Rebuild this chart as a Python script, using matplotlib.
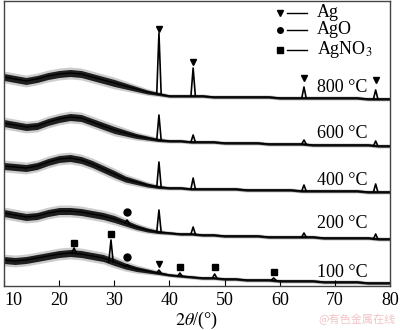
import numpy as np
import matplotlib
matplotlib.use("Agg")
import matplotlib.pyplot as plt

plt.rcParams['font.family'] = ['Liberation Serif', 'DejaVu Serif']
plt.rcParams['mathtext.fontset'] = 'stix'

# 2theta grid (deg) and smoothed baseline of each pattern (offset intensity, a.u.)
two_theta = np.arange(10, 81, 2)
i800 = [209, 207, 205, 207, 210, 212, 213, 212, 209, 206, 203, 200, 197, 194, 192, 190, 190, 190,
        190, 189, 189, 189, 189, 189, 189, 188, 188, 188, 188, 188, 188, 188, 188, 187, 187, 187]
i600 = [163, 161, 159, 160, 164, 167, 169, 168, 164, 160, 156, 153, 150, 148, 146, 145, 145, 144,
        144, 144, 143, 143, 143, 143, 142, 142, 142, 142, 141, 141, 141, 141, 141, 141, 140, 140]
i400 = [120, 119, 118, 120, 124, 127, 128, 126, 122, 117, 112, 107, 104, 101, 99, 98, 98, 97,
        97, 97, 97, 97, 96, 96, 96, 96, 96, 95, 95, 95, 95, 95, 95, 94, 94, 94]
i200 = [73, 71, 69, 70, 73, 75, 75, 74, 72, 70, 67, 63, 59, 56, 54, 53, 52, 52,
        51, 51, 50, 50, 50, 50, 49, 49, 49, 49, 49, 48, 48, 48, 48, 48, 47, 47]
i100 = [26, 25, 26, 28, 30, 32, 33, 32, 30, 28, 24, 20, 17, 15, 13, 11, 10, 9,
        8, 8, 7, 7, 6, 6, 6, 5, 5, 5, 5, 4, 4, 4, 4, 3, 3, 3]
# half-width of the noise band along the scan
noise = [3.5] * 11 + [3, 2.5, 2, 1.5] + [1.2] * 21

# reflections: (2theta, peak top)
pk800 = [(38.1, 253), (44.3, 218), (64.4, 199), (77.4, 196)]
pk600 = [(38.1, 171), (44.3, 151), (64.4, 146), (77.4, 145)]
pk400 = [(38.1, 124), (44.3, 108), (64.4, 101), (77.4, 102)]
pk200 = [(32.3, 66), (38.1, 76), (44.3, 59), (64.4, 53), (77.4, 52)]
pk100 = [(22.7, 38), (29.4, 46), (32.3, 21), (38.1, 16), (41.9, 13), (48.2, 12), (58.9, 8)]

# phase markers
ag_x = [38.1, 44.3, 64.4, 77.4, 38.1]
ag_y = [257, 224, 208, 206, 22]
ago_x = [32.3, 32.3]
ago_y = [74, 29]
agno3_x = [22.7, 29.4, 41.9, 48.2, 58.9]
agno3_y = [43, 52, 19, 19, 14]

temps = ['800 °C', '600 °C', '400 °C', '200 °C', '100 °C']
label_y = [198, 152, 106, 63, 14]

fig = plt.figure(figsize=(4, 3.3), dpi=100)
ax = fig.add_axes([0.01, 0.1333, 0.965, 0.8637])

for curve, peaks in [(i800, pk800), (i600, pk600), (i400, pk400), (i200, pk200), (i100, pk100)]:
    c = np.array(curve, dtype=float)
    nz = np.array(noise)
    # faint outer spikes, dense core, then the mean trace
    ax.fill_between(two_theta, c - 1.7 * nz, c + 1.7 * nz, color='black', alpha=0.2, lw=0)
    ax.fill_between(two_theta, c - nz, c + nz, color='black', alpha=0.85, lw=0)
    ax.plot(two_theta, c, color='black', lw=1.0)
    for p, top in peaks:
        base = c[np.abs(two_theta - p).argmin()]
        ax.plot([p - 0.4, p, p + 0.4], [base, top, base], color='black', lw=1.2)

ax.plot(ag_x, ag_y, 'v', color='black', ms=5, ls='none')
ax.plot(ago_x, ago_y, 'o', color='black', ms=5, ls='none')
ax.plot(agno3_x, agno3_y, 's', color='black', ms=5, ls='none')

for t, y in zip(temps, label_y):
    ax.text(66.8, y, t, fontsize=13, va='center', ha='left')

# legend built by hand
for mk, y, name in [('v', 273, 'Ag'), ('o', 256, 'AgO'), ('s', 236, 'AgNO$_3$')]:
    ax.plot([60.0], [y], mk, color='black', ms=4)
    ax.plot([61.3, 65.0], [y, y], color='black', lw=1.0)
    ax.text(66.8, y, name, fontsize=13, va='center', ha='left')

ax.set_xlim(10, 80)
ax.set_ylim(0, 285)
ax.set_xticks(range(10, 81, 10))
ax.set_yticks([])
ax.tick_params(axis='x', direction='in', length=4, labelsize=13, pad=4)
ax.get_xticklabels()[0].set_horizontalalignment('left')
for s in ax.spines.values():
    s.set_color('#444444')
    s.set_linewidth(1.0)
ax.set_xlabel(r'$2\theta$/(°)', fontsize=13, labelpad=1)

fig.text(0.99, 0.015, '@有色金属在线', fontsize=8, color='#f2c4c4', ha='right', va='bottom',
         family=['Noto Sans CJK SC', 'DejaVu Sans'])

fig.savefig('out.png', dpi=100)
